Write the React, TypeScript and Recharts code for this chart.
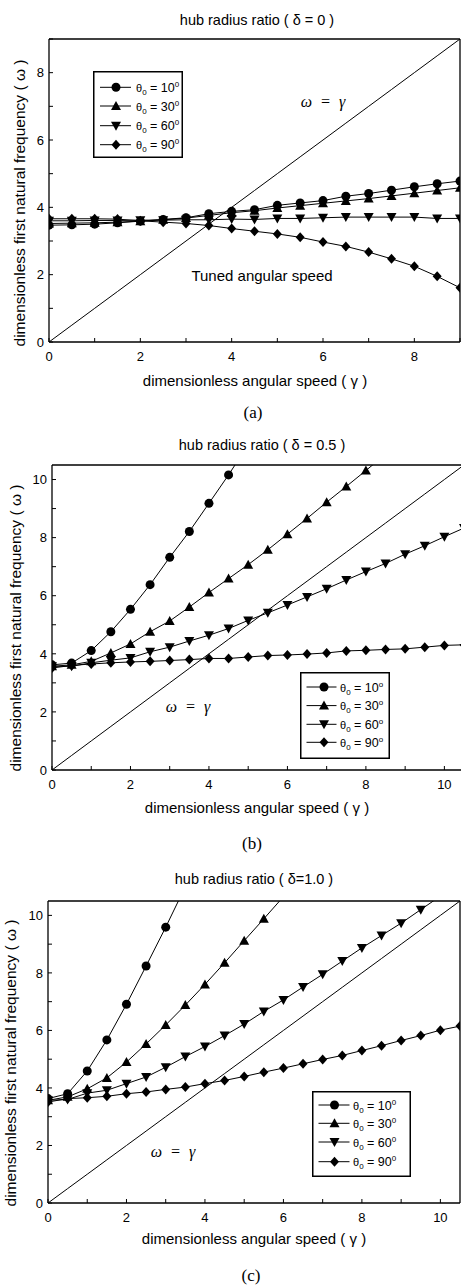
import React from "react";
import { LineChart, Line, XAxis, YAxis } from "recharts";

// dimensionless angular speed (gamma) sample points
const gammaA = [0, 0.5, 1, 1.5, 2, 2.5, 3, 3.5, 4, 4.5, 5, 5.5, 6, 6.5, 7, 7.5, 8, 8.5, 9];
const gammaBC = [0, 0.5, 1, 1.5, 2, 2.5, 3, 3.5, 4, 4.5, 5, 5.5, 6, 6.5, 7, 7.5, 8, 8.5, 9, 9.5, 10, 10.5];

// (a) delta = 0
const a10 = [3.47, 3.48, 3.5, 3.54, 3.59, 3.64, 3.69, 3.81, 3.88, 3.93, 4.06, 4.13, 4.2, 4.33, 4.41, 4.51, 4.61, 4.7, 4.78];
const a30 = [3.52, 3.53, 3.54, 3.56, 3.59, 3.63, 3.68, 3.76, 3.84, 3.9, 3.98, 4.05, 4.12, 4.19, 4.26, 4.34, 4.42, 4.5, 4.58];
const a60 = [3.6, 3.6, 3.61, 3.61, 3.62, 3.62, 3.63, 3.63, 3.65, 3.64, 3.67, 3.67, 3.69, 3.71, 3.71, 3.71, 3.71, 3.67, 3.67];
const a90 = [3.66, 3.66, 3.66, 3.65, 3.6, 3.56, 3.52, 3.46, 3.37, 3.29, 3.21, 3.11, 2.97, 2.84, 2.67, 2.47, 2.25, 1.95, 1.61];

// (b) delta = 0.5
const b10 = [3.62, 3.68, 4.11, 4.76, 5.53, 6.38, 7.32, 8.21, 9.18, 10.16, 11.2, null, null, null, null, null, null, null, null, null, null, null];
const b30 = [3.57, 3.62, 3.74, 4.03, 4.34, 4.76, 5.13, 5.61, 6.11, 6.59, 7.07, 7.58, 8.12, 8.66, 9.22, 9.76, 10.31, 10.87, null, null, null, null];
const b60 = [3.57, 3.57, 3.69, 3.78, 3.86, 4.07, 4.23, 4.44, 4.64, 4.87, 5.15, 5.41, 5.68, 5.96, 6.24, 6.54, 6.83, 7.11, 7.43, 7.72, 8.03, 8.33];
const b90 = [3.51, 3.6, 3.65, 3.69, 3.72, 3.74, 3.77, 3.8, 3.84, 3.84, 3.89, 3.94, 3.96, 3.99, 4.03, 4.1, 4.12, 4.15, 4.17, 4.23, 4.29, 4.31];

// (c) delta = 1.0
const c10 = [3.63, 3.8, 4.59, 5.67, 6.91, 8.24, 9.59, 11.0, null, null, null, null, null, null, null, null, null, null, null, null, null, null];
const c30 = [3.57, 3.69, 3.97, 4.35, 4.9, 5.53, 6.19, 6.88, 7.6, 8.35, 9.12, 9.88, 10.65, null, null, null, null, null, null, null, null, null];
const c60 = [3.57, 3.6, 3.82, 3.92, 4.15, 4.38, 4.72, 5.09, 5.44, 5.82, 6.22, 6.66, 7.06, 7.51, 7.95, 8.41, 8.87, 9.3, 9.73, 10.2, 10.67, null];
const c90 = [3.51, 3.63, 3.66, 3.71, 3.8, 3.86, 3.95, 4.03, 4.15, 4.26, 4.4, 4.55, 4.69, 4.84, 4.99, 5.13, 5.3, 5.47, 5.65, 5.82, 6.01, 6.15];

const ticksA = [0, 1, 2, 3, 4, 5, 6, 7, 8, 9];
const ticksBC = [0, 1, 2, 3, 4, 5, 6, 7, 8, 9, 10];

const thetaLabels = ["10", "30", "60", "90"];
const seriesKeys = ["s10", "s30", "s60", "s90"];
const shapes = ["circle", "up", "down", "diamond"];

const SANS = '"Liberation Sans", Arial, Helvetica, sans-serif';
const SERIF = '"Liberation Serif", "Times New Roman", serif';

const buildRows = (gamma: number[], s: (number | null)[][]) =>
  gamma.map((g, i) => ({
    g,
    diag: g,
    s10: s[0][i],
    s30: s[1][i],
    s60: s[2][i],
    s90: s[3][i],
  }));

const Marker = ({ cx, cy, shape }: { cx: number; cy: number; shape: string }) => {
  if (shape === "circle") return <circle cx={cx} cy={cy} r={4.5} fill="#000" />;
  let pts = "";
  if (shape === "up") pts = `${cx},${cy - 5} ${cx - 5},${cy + 4} ${cx + 5},${cy + 4}`;
  if (shape === "down") pts = `${cx - 5},${cy - 4} ${cx + 5},${cy - 4} ${cx},${cy + 5}`;
  if (shape === "diamond") pts = `${cx},${cy - 5} ${cx + 4.5},${cy} ${cx},${cy + 5} ${cx - 4.5},${cy}`;
  return <polygon points={pts} fill="#000" />;
};

const makeDot = (shape: string) => (props: any) => {
  const { cx, cy, value, index } = props;
  if (cx == null || cy == null || value == null || isNaN(cy)) return <g key={`e-${index}`} />;
  return (
    <g key={`d-${index}`}>
      <Marker cx={cx} cy={cy} shape={shape} />
    </g>
  );
};

// inward ticks, labels only on even values
const XTick = (props: any) => {
  const { x, y, payload } = props;
  const v = payload.value;
  return (
    <g>
      <line x1={x} x2={x} y1={y} y2={y - 4} stroke="#000" strokeWidth={1} />
      {v % 2 === 0 && (
        <text x={x} y={y + 19} textAnchor="middle" fontSize={13} fontFamily={SANS} fill="#000">
          {v}
        </text>
      )}
    </g>
  );
};

const YTick = (props: any) => {
  const { x, y, payload } = props;
  const v = payload.value;
  return (
    <g>
      <line x1={x} x2={x + 4} y1={y} y2={y} stroke="#000" strokeWidth={1} />
      {v % 2 === 0 && (
        <text x={x - 5} y={y + 4.7} textAnchor="end" fontSize={13} fontFamily={SANS} fill="#000">
          {v}
        </text>
      )}
    </g>
  );
};

interface PanelProps {
  top: number;
  width: number;
  height: number;
  plot: { top: number; right: number; bottom: number; left: number };
  data: any[];
  max: number;
  ticks: number[];
}

const AXIS = { stroke: "#000", strokeWidth: 1.3 };

// plot = margins around the plotting rectangle; each axis takes 1px of it
const Panel = ({ top, width, height, plot, data, max, ticks }: PanelProps) => (
  <div style={{ position: "absolute", left: 0, top }}>
    <LineChart
      width={width}
      height={height}
      data={data}
      margin={{
        top: plot.top - 1,
        right: plot.right - 1,
        bottom: plot.bottom - 1,
        left: plot.left - 1,
      }}
    >
      <XAxis
        dataKey="g"
        type="number"
        domain={[0, max]}
        ticks={ticks}
        interval={0}
        height={1}
        tickSize={0}
        tickMargin={0}
        tickLine={false}
        tick={<XTick />}
        axisLine={AXIS}
        allowDataOverflow
      />
      <YAxis
        type="number"
        domain={[0, max]}
        ticks={ticks}
        interval={0}
        width={1}
        tickSize={0}
        tickMargin={0}
        tickLine={false}
        tick={<YTick />}
        axisLine={AXIS}
        allowDataOverflow
      />
      <XAxis
        xAxisId="top"
        orientation="top"
        type="number"
        domain={[0, max]}
        height={1}
        tick={false}
        tickLine={false}
        axisLine={AXIS}
      />
      <YAxis
        yAxisId="right"
        orientation="right"
        type="number"
        domain={[0, max]}
        width={1}
        tick={false}
        tickLine={false}
        axisLine={AXIS}
      />
      <Line
        dataKey="diag"
        stroke="#000"
        strokeWidth={1}
        dot={false}
        activeDot={false}
        isAnimationActive={false}
      />
      {seriesKeys.map((k, i) => (
        <Line
          key={k}
          dataKey={k}
          stroke="#000"
          strokeWidth={1}
          dot={makeDot(shapes[i])}
          activeDot={false}
          connectNulls={false}
          isAnimationActive={false}
        />
      ))}
    </LineChart>
  </div>
);

interface LegendProps {
  left: number;
  top: number;
  w: number;
  h: number;
  rows: number[];
  lineX: [number, number];
  markX: number;
  textX: number;
  deg: string;
}

const LegendBox = ({ left, top, w, h, rows, lineX, markX, textX, deg }: LegendProps) => (
  <svg
    width={w}
    height={h}
    style={{ position: "absolute", left, top, overflow: "visible" }}
  >
    <rect x={0.75} y={0.75} width={w - 1.5} height={h - 1.5} fill="#fff" stroke="#000" strokeWidth={1.5} />
    {rows.map((ry, i) => (
      <g key={i}>
        <line x1={lineX[0]} x2={lineX[1]} y1={ry} y2={ry} stroke="#000" strokeWidth={1} />
        <Marker cx={markX} cy={ry} shape={shapes[i]} />
        <text x={textX} y={ry + 4.5} fontSize={12.5} fontFamily={SANS} fill="#000">
          <tspan fontSize={11}>θ</tspan>
          <tspan fontSize={8} dy={3}>0</tspan>
          <tspan dy={-3}>{` = ${thetaLabels[i]}`}</tspan>
          <tspan fontSize={8} dy={-5}>{deg}</tspan>
        </text>
      </g>
    ))}
  </svg>
);

const Txt = ({
  x,
  y,
  size,
  children,
  font = SANS,
  italic = false,
  rotate = false,
}: {
  x: number;
  y: number;
  size: number;
  children: React.ReactNode;
  font?: string;
  italic?: boolean;
  rotate?: boolean;
}) => (
  <div
    style={{
      position: "absolute",
      left: x,
      top: y,
      transform: `translate(-50%, -50%)${rotate ? " rotate(-90deg)" : ""}`,
      fontSize: size,
      fontFamily: font,
      fontStyle: italic ? "italic" : "normal",
      lineHeight: 1,
      whiteSpace: "nowrap",
      color: "#000",
    }}
  >
    {children}
  </div>
);

const yLabel = "dimensionless first natural frequency ( ω )";
const xLabel = "dimensionless angular speed ( γ )";
const eq = "ω\u2002=\u2002γ";

export default function App() {
  const dataA = buildRows(gammaA, [a10, a30, a60, a90]);
  const dataB = buildRows(gammaBC, [b10, b30, b60, b90]);
  const dataC = buildRows(gammaBC, [c10, c30, c60, c90]);

  return (
    <div
      style={{
        position: "absolute",
        left: 0,
        top: 0,
        width: 461,
        height: 1285,
        overflow: "hidden",
        background: "#fff",
      }}
    >
      {/* (a) */}
      <Panel
        top={0}
        width={461}
        height={372}
        plot={{ top: 39, right: 1, bottom: 30, left: 49 }}
        data={dataA}
        max={9}
        ticks={ticksA}
      />
      <Txt x={257} y={20} size={14.5}>hub radius ratio ( δ = 0 )</Txt>
      <Txt x={255} y={380} size={15}>{xLabel}</Txt>
      <Txt x={20} y={203} size={15.5} rotate>{yLabel}</Txt>
      <Txt x={253} y={412} size={17} font={SERIF}>(a)</Txt>
      <Txt x={323} y={102} size={16} font={SERIF} italic>{eq}</Txt>
      <Txt x={262} y={275} size={15}>Tuned angular speed</Txt>
      <LegendBox
        left={93}
        top={71}
        w={90}
        h={87}
        rows={[16.3, 35, 54.7, 73.7]}
        lineX={[7, 38]}
        markX={23}
        textX={43}
        deg="0"
      />

      {/* (b) */}
      <Panel
        top={420}
        width={466}
        height={380}
        plot={{ top: 45, right: 2, bottom: 30, left: 52 }}
        data={dataB}
        max={10.5}
        ticks={ticksBC}
      />
      <Txt x={262} y={445} size={14.5}>hub radius ratio ( δ = 0.5 )</Txt>
      <Txt x={257} y={807} size={15}>{xLabel}</Txt>
      <Txt x={16} y={628} size={15.5} rotate>{yLabel}</Txt>
      <Txt x={252} y={843} size={17} font={SERIF}>(b)</Txt>
      <Txt x={188} y={707} size={16} font={SERIF} italic>{eq}</Txt>
      <LegendBox
        left={300}
        top={672}
        w={90}
        h={87}
        rows={[15, 33.6, 52.3, 70.3]}
        lineX={[6.5, 36.5]}
        markX={24}
        textX={40}
        deg="o"
      />

      {/* (c) */}
      <Panel
        top={860}
        width={461}
        height={373}
        plot={{ top: 41, right: 1, bottom: 30, left: 48 }}
        data={dataC}
        max={10.5}
        ticks={ticksBC}
      />
      <Txt x={254} y={879} size={14.5}>hub radius ratio ( δ=1.0 )</Txt>
      <Txt x={254} y={1238} size={15}>{xLabel}</Txt>
      <Txt x={11} y={1063} size={15.5} rotate>{yLabel}</Txt>
      <Txt x={251} y={1275} size={17} font={SERIF}>(c)</Txt>
      <Txt x={173} y={1152} size={16} font={SERIF} italic>{eq}</Txt>
      <LegendBox
        left={312}
        top={1091}
        w={99}
        h={86}
        rows={[14, 32.3, 51, 70.7]}
        lineX={[6.5, 37.5]}
        markX={22.5}
        textX={41}
        deg="0"
      />
    </div>
  );
}
